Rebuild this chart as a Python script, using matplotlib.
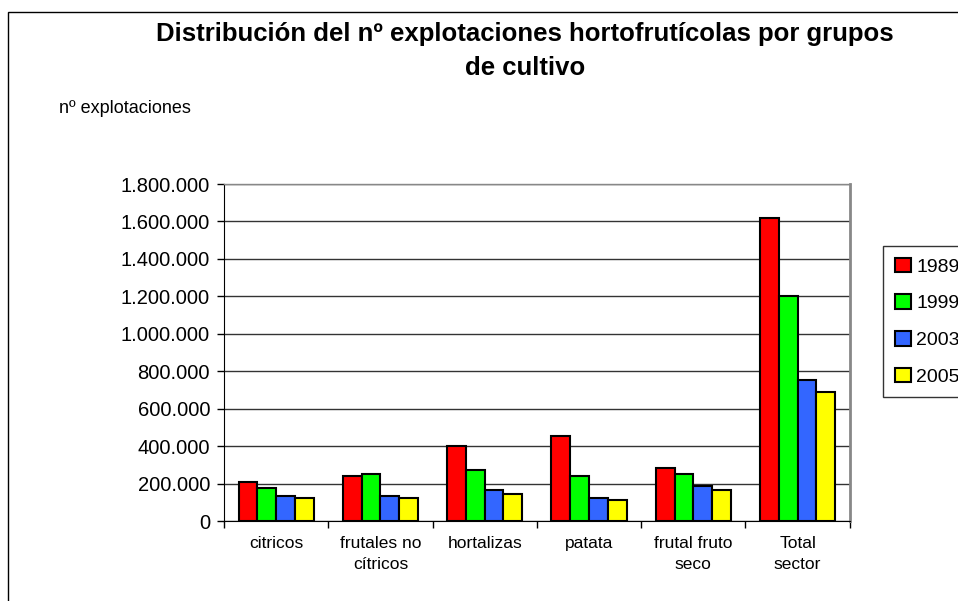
import numpy as np
import matplotlib
matplotlib.use("Agg")
import matplotlib.pyplot as plt
from matplotlib.ticker import FuncFormatter

plt.rcParams['font.family'] = ['Liberation Sans', 'DejaVu Sans']

categories = ['citricos', 'frutales no\ncítricos', 'hortalizas', 'patata',
              'frutal fruto\nseco', 'Total\nsector']
years = ['1989', '1999', '2003', '2005']
v1989 = [208000, 240000, 400000, 454000, 283000, 1620000]
v1999 = [178000, 253000, 274000, 240000, 251000, 1200000]
v2003 = [135000, 135000, 166000, 125000, 187000, 753000]
v2005 = [125000, 125000, 144000, 114000, 166000, 691000]
colors = ['#ff0000', '#00ff00', '#3366ff', '#ffff00']

fig = plt.figure(figsize=(9.58, 6.01), dpi=100)
# outer chart border
fig.patches.append(plt.Rectangle((8 / 958, -0.01), 1.0, 1 - 12 / 601 + 0.01,
                                 transform=fig.transFigure, fill=False,
                                 edgecolor='black', linewidth=1.0))
ax = fig.add_axes([0.2338, 0.1331, 0.6532, 0.5607])

x = np.arange(len(categories))
w = 0.18
for i, (vals, c, lab) in enumerate(zip([v1989, v1999, v2003, v2005], colors, years)):
    ax.bar(x + (i - 1.5) * w, vals, width=w, color=c, edgecolor='black',
           linewidth=1.5, label=lab, zorder=3)

ax.set_xlim(-0.5, len(categories) - 0.5)
ax.set_ylim(0, 1800000)
ax.set_yticks(np.arange(0, 1800001, 200000))
ax.yaxis.set_major_formatter(FuncFormatter(lambda v, p: f"{int(v):,}".replace(',', '.')))
ax.yaxis.grid(True, color='#333333', linewidth=1.0, zorder=0)
ax.set_xticks(x)
ax.set_xticklabels(categories, fontsize=12.5, linespacing=1.5)
ax.set_xticks(np.arange(-0.5, len(categories), 1), minor=True)
ax.tick_params(axis='x', which='major', length=0, pad=11)
ax.tick_params(axis='x', which='minor', length=5, direction='out', width=1)
ax.tick_params(axis='y', length=5, direction='out', labelsize=14.5, width=1, pad=5)
ax.spines['top'].set_color('#888888')
ax.spines['right'].set_color('#888888')
ax.spines['right'].set_linewidth(2)
ax.spines['top'].set_linewidth(1)

fig.text(0.548, 0.915, 'Distribución del nº explotaciones hortofrutícolas por grupos\nde cultivo',
         ha='center', va='center', fontsize=18.5, fontweight='bold', linespacing=1.5)
fig.text(0.062, 0.82, 'nº explotaciones', fontsize=13, ha='left', va='center')

leg = fig.legend(loc='upper left', bbox_to_anchor=(0.912, 0.607), fontsize=14,
                 frameon=True, fancybox=False, edgecolor='black', handlelength=0.8,
                 handleheight=0.8, handletextpad=0.3, labelspacing=0.95,
                 borderpad=0.6)
leg.get_frame().set_linewidth(1.0)

fig.savefig('out.png', dpi=100)
